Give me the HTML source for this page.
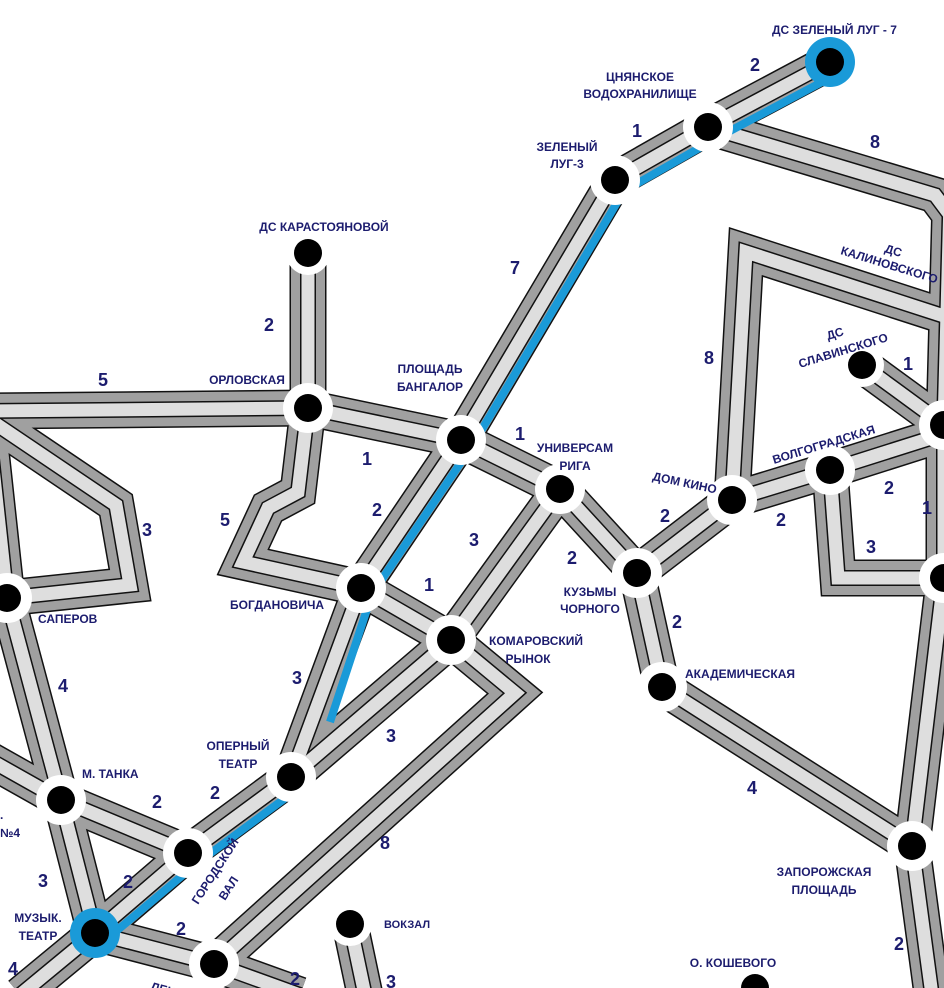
<!DOCTYPE html>
<html><head><meta charset="utf-8"><style>
html,body{margin:0;padding:0;background:#fff;}
svg{display:block;}
text{font-family:"Liberation Sans",sans-serif;fill:#1c1c6e;}
.n{font-size:12px;font-weight:bold;}
.d{font-size:18px;font-weight:bold;}
</style></head><body>
<svg width="944" height="988" viewBox="0 0 944 988" xmlns="http://www.w3.org/2000/svg">
<defs>
<g id="roads" fill="none" stroke-linejoin="miter">
<path d="M830,62 L708,127 L615,180 L461,440 L361,588 L291,777 L188,853 L95,933 L20,995"/>
<path d="M708,127 L935,195 L950,215"/>
<path d="M732,500 L746,252 L950,318"/>
<path d="M308,253 L308,408"/>
<path d="M-10,411 L308,408 L461,440 L560,489 L637,573 L662,687 L912,846 L932,995"/>
<path d="M308,408 L298,492 L268,508 L243,562 L361,588 L451,640 L515,693 L214,964"/>
<path d="M560,489 L451,640 L291,777"/>
<path d="M637,573 L732,500 L830,470 L950,432"/>
<path d="M862,365 L944,425"/>
<path d="M830,470 L838,578 L950,578"/>
<path d="M950,200 L944,425 L944,578 L912,846"/>
<path d="M-10,420 L116,505 L130,585 L7,598 L61,800 L95,933"/>
<path d="M-10,440 L7,598"/>
<path d="M-10,760 L61,800 L188,853"/>
<path d="M95,933 L214,964 L300,995"/>
<path d="M350,924 L365,995"/>
</g>
</defs>
<use href="#roads" stroke="#111" stroke-width="37"/>
<use href="#roads" stroke="#a0a0a0" stroke-width="34"/>
<use href="#roads" stroke="#111" stroke-width="16"/>
<use href="#roads" stroke="#dedede" stroke-width="13"/>
<g fill="none" stroke="#1a9ad8" stroke-width="8">
<path d="M837,74 L715,139 L624,191 L472,446 L372,594 L330,722"/>
<path d="M299,788 L196,864 L101,944"/>
</g>
<g>
<circle cx="830" cy="62" r="25" fill="#1a9ad8"/><circle cx="830" cy="62" r="14" fill="#000"/>
<circle cx="95" cy="933" r="25" fill="#1a9ad8"/><circle cx="95" cy="933" r="14" fill="#000"/>
</g>
<g fill="#fff">
<circle cx="708" cy="127" r="25"/><circle cx="615" cy="180" r="25"/><circle cx="308" cy="253" r="22"/>
<circle cx="308" cy="408" r="25"/><circle cx="461" cy="440" r="25"/><circle cx="560" cy="489" r="25"/>
<circle cx="637" cy="573" r="25"/><circle cx="662" cy="687" r="25"/><circle cx="732" cy="500" r="25"/>
<circle cx="830" cy="470" r="25"/><circle cx="862" cy="365" r="22"/><circle cx="944" cy="425" r="25"/>
<circle cx="944" cy="578" r="25"/><circle cx="361" cy="588" r="25"/><circle cx="451" cy="640" r="25"/>
<circle cx="291" cy="777" r="25"/><circle cx="188" cy="853" r="25"/><circle cx="61" cy="800" r="25"/>
<circle cx="7" cy="598" r="25"/><circle cx="912" cy="846" r="25"/><circle cx="350" cy="924" r="22"/>
<circle cx="214" cy="964" r="25"/><circle cx="755" cy="988" r="22"/>
</g>
<g fill="#000">
<circle cx="708" cy="127" r="14"/><circle cx="615" cy="180" r="14"/><circle cx="308" cy="253" r="14"/>
<circle cx="308" cy="408" r="14"/><circle cx="461" cy="440" r="14"/><circle cx="560" cy="489" r="14"/>
<circle cx="637" cy="573" r="14"/><circle cx="662" cy="687" r="14"/><circle cx="732" cy="500" r="14"/>
<circle cx="830" cy="470" r="14"/><circle cx="862" cy="365" r="14"/><circle cx="944" cy="425" r="14"/>
<circle cx="944" cy="578" r="14"/><circle cx="361" cy="588" r="14"/><circle cx="451" cy="640" r="14"/>
<circle cx="291" cy="777" r="14"/><circle cx="188" cy="853" r="14"/><circle cx="61" cy="800" r="14"/>
<circle cx="7" cy="598" r="14"/><circle cx="912" cy="846" r="14"/><circle cx="350" cy="924" r="14"/>
<circle cx="214" cy="964" r="14"/><circle cx="755" cy="988" r="14"/>
</g>
<g class="n">
<text x="772" y="34">ДС ЗЕЛЕНЫЙ ЛУГ - 7</text>
<text x="640" y="81" text-anchor="middle">ЦНЯНСКОЕ</text>
<text x="640" y="98" text-anchor="middle">ВОДОХРАНИЛИЩЕ</text>
<text x="567" y="151" text-anchor="middle">ЗЕЛЕНЫЙ</text>
<text x="567" y="168" text-anchor="middle">ЛУГ-3</text>
<text x="324" y="231" text-anchor="middle">ДС КАРАСТОЯНОВОЙ</text>
<text x="247" y="384" text-anchor="middle">ОРЛОВСКАЯ</text>
<text x="430" y="373" text-anchor="middle">ПЛОЩАДЬ</text>
<text x="430" y="391" text-anchor="middle">БАНГАЛОР</text>
<text x="575" y="452" text-anchor="middle">УНИВЕРСАМ</text>
<text x="575" y="470" text-anchor="middle">РИГА</text>
<text x="652" y="480" transform="rotate(12 652 480)">ДОМ КИНО</text>
<text x="774" y="464" transform="rotate(-17 774 464)">ВОЛГОГРАДСКАЯ</text>
<text x="828" y="340" transform="rotate(-17 828 340)">ДС</text>
<text x="800" y="368" transform="rotate(-17 800 368)">СЛАВИНСКОГО</text>
<text x="884" y="252" transform="rotate(17 884 252)">ДС</text>
<text x="840" y="254" transform="rotate(17 840 254)">КАЛИНОВСКОГО</text>
<text x="590" y="596" text-anchor="middle">КУЗЬМЫ</text>
<text x="590" y="613" text-anchor="middle">ЧОРНОГО</text>
<text x="685" y="678">АКАДЕМИЧЕСКАЯ</text>
<text x="230" y="609">БОГДАНОВИЧА</text>
<text x="489" y="645">КОМАРОВСКИЙ</text>
<text x="528" y="663" text-anchor="middle">РЫНОК</text>
<text x="238" y="750" text-anchor="middle">ОПЕРНЫЙ</text>
<text x="238" y="768" text-anchor="middle">ТЕАТР</text>
<text x="82" y="778">М. ТАНКА</text>
<text x="38" y="623">САПЕРОВ</text>
<text x="38" y="922" text-anchor="middle">МУЗЫК.</text>
<text x="38" y="940" text-anchor="middle">ТЕАТР</text>
<text x="198" y="905" transform="rotate(-57 198 905)">ГОРОДСКОЙ</text>
<text x="225" y="901" transform="rotate(-57 225 901)">ВАЛ</text>
<text x="384" y="928" style="font-size:11px">ВОКЗАЛ</text>
<text x="733" y="967" text-anchor="middle">О. КОШЕВОГО</text>
<text x="824" y="876" text-anchor="middle">ЗАПОРОЖСКАЯ</text>
<text x="824" y="894" text-anchor="middle">ПЛОЩАДЬ</text>
<text x="0" y="819">.</text>
<text x="0" y="837">№4</text>
<text x="150" y="990" transform="rotate(15 150 990)">ЛЕНИ</text>
</g>
<g class="d">
<text x="750" y="71">2</text><text x="632" y="137">1</text><text x="870" y="148">8</text>
<text x="510" y="274">7</text><text x="264" y="331">2</text><text x="98" y="386">5</text>
<text x="362" y="465">1</text><text x="515" y="440">1</text><text x="704" y="364">8</text>
<text x="903" y="370">1</text><text x="372" y="516">2</text><text x="220" y="526">5</text>
<text x="142" y="536">3</text><text x="469" y="546">3</text><text x="660" y="522">2</text>
<text x="776" y="526">2</text><text x="884" y="494">2</text><text x="922" y="514">1</text>
<text x="866" y="553">3</text><text x="567" y="564">2</text><text x="424" y="591">1</text>
<text x="672" y="628">2</text><text x="58" y="692">4</text><text x="292" y="684">3</text>
<text x="386" y="742">3</text><text x="747" y="794">4</text><text x="152" y="808">2</text>
<text x="210" y="799">2</text><text x="380" y="849">8</text><text x="38" y="887">3</text>
<text x="123" y="888">2</text><text x="176" y="935">2</text><text x="894" y="950">2</text>
<text x="8" y="975">4</text><text x="290" y="985">2</text><text x="386" y="988">3</text>
</g>
</svg>
</body></html>
